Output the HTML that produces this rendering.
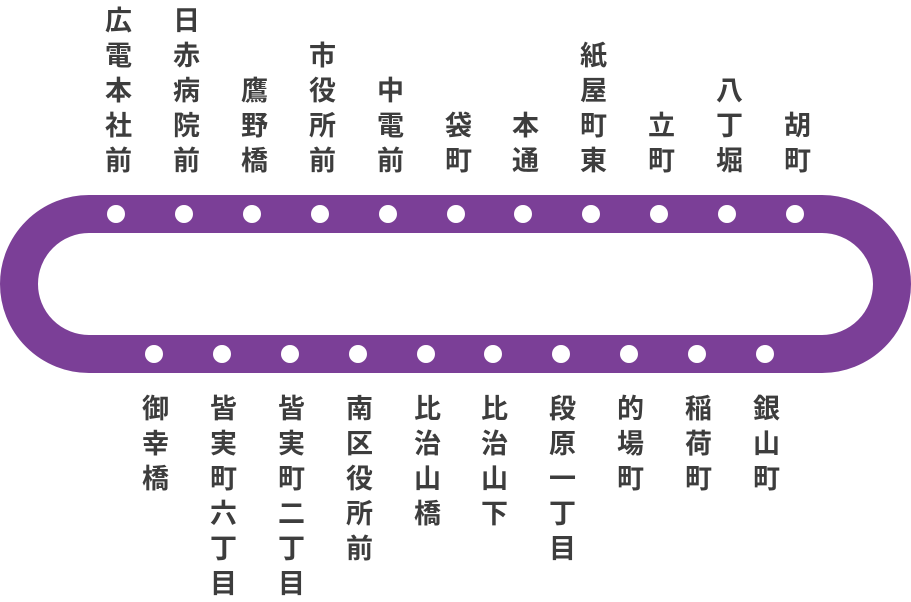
<!DOCTYPE html>
<html><head><meta charset="utf-8"><style>
html,body{margin:0;padding:0;background:#fff;overflow:hidden;}
#c{position:relative;width:911px;height:602px;overflow:hidden;}
.t,.b{position:absolute;writing-mode:vertical-rl;text-orientation:upright;font-family:"Liberation Sans","Noto Sans CJK JP",sans-serif;font-weight:bold;font-size:27px;letter-spacing:8px;line-height:40px;width:40px;color:#3d3d3d;white-space:nowrap;}
.t{bottom:421px;}
.b{top:394px;height:208px;overflow:hidden;}
</style></head><body><div id="c">
<svg width="911" height="602" style="position:absolute;left:0;top:0">
<rect x="19" y="214" width="873" height="140" rx="70" ry="70" fill="none" stroke="#7b3f97" stroke-width="38"/>
<g fill="#fff">
<circle cx="116" cy="214" r="9"/><circle cx="184" cy="214" r="9"/><circle cx="252" cy="214" r="9"/><circle cx="320" cy="214" r="9"/><circle cx="388" cy="214" r="9"/><circle cx="456" cy="214" r="9"/><circle cx="523" cy="214" r="9"/><circle cx="591" cy="214" r="9"/><circle cx="659" cy="214" r="9"/><circle cx="727" cy="214" r="9"/><circle cx="795" cy="214" r="9"/>
<circle cx="154" cy="354" r="9"/><circle cx="222" cy="354" r="9"/><circle cx="290" cy="354" r="9"/><circle cx="358" cy="354" r="9"/><circle cx="426" cy="354" r="9"/><circle cx="493" cy="354" r="9"/><circle cx="561" cy="354" r="9"/><circle cx="629" cy="354" r="9"/><circle cx="697" cy="354" r="9"/><circle cx="765" cy="354" r="9"/>
</g></svg>
<div class="t" style="left:96px">広電本社前</div>
<div class="t" style="left:164px">日赤病院前</div>
<div class="t" style="left:232px">鷹野橋</div>
<div class="t" style="left:300px">市役所前</div>
<div class="t" style="left:368px">中電前</div>
<div class="t" style="left:436px">袋町</div>
<div class="t" style="left:503px">本通</div>
<div class="t" style="left:571px">紙屋町東</div>
<div class="t" style="left:639px">立町</div>
<div class="t" style="left:707px">八丁堀</div>
<div class="t" style="left:775px">胡町</div>
<div class="b" style="left:133px">御幸橋</div>
<div class="b" style="left:201px">皆実町六丁目</div>
<div class="b" style="left:269px">皆実町二丁目</div>
<div class="b" style="left:337px">南区役所前</div>
<div class="b" style="left:405px">比治山橋</div>
<div class="b" style="left:472px">比治山下</div>
<div class="b" style="left:540px">段原一丁目</div>
<div class="b" style="left:608px">的場町</div>
<div class="b" style="left:676px">稲荷町</div>
<div class="b" style="left:744px">銀山町</div>
</div></body></html>
